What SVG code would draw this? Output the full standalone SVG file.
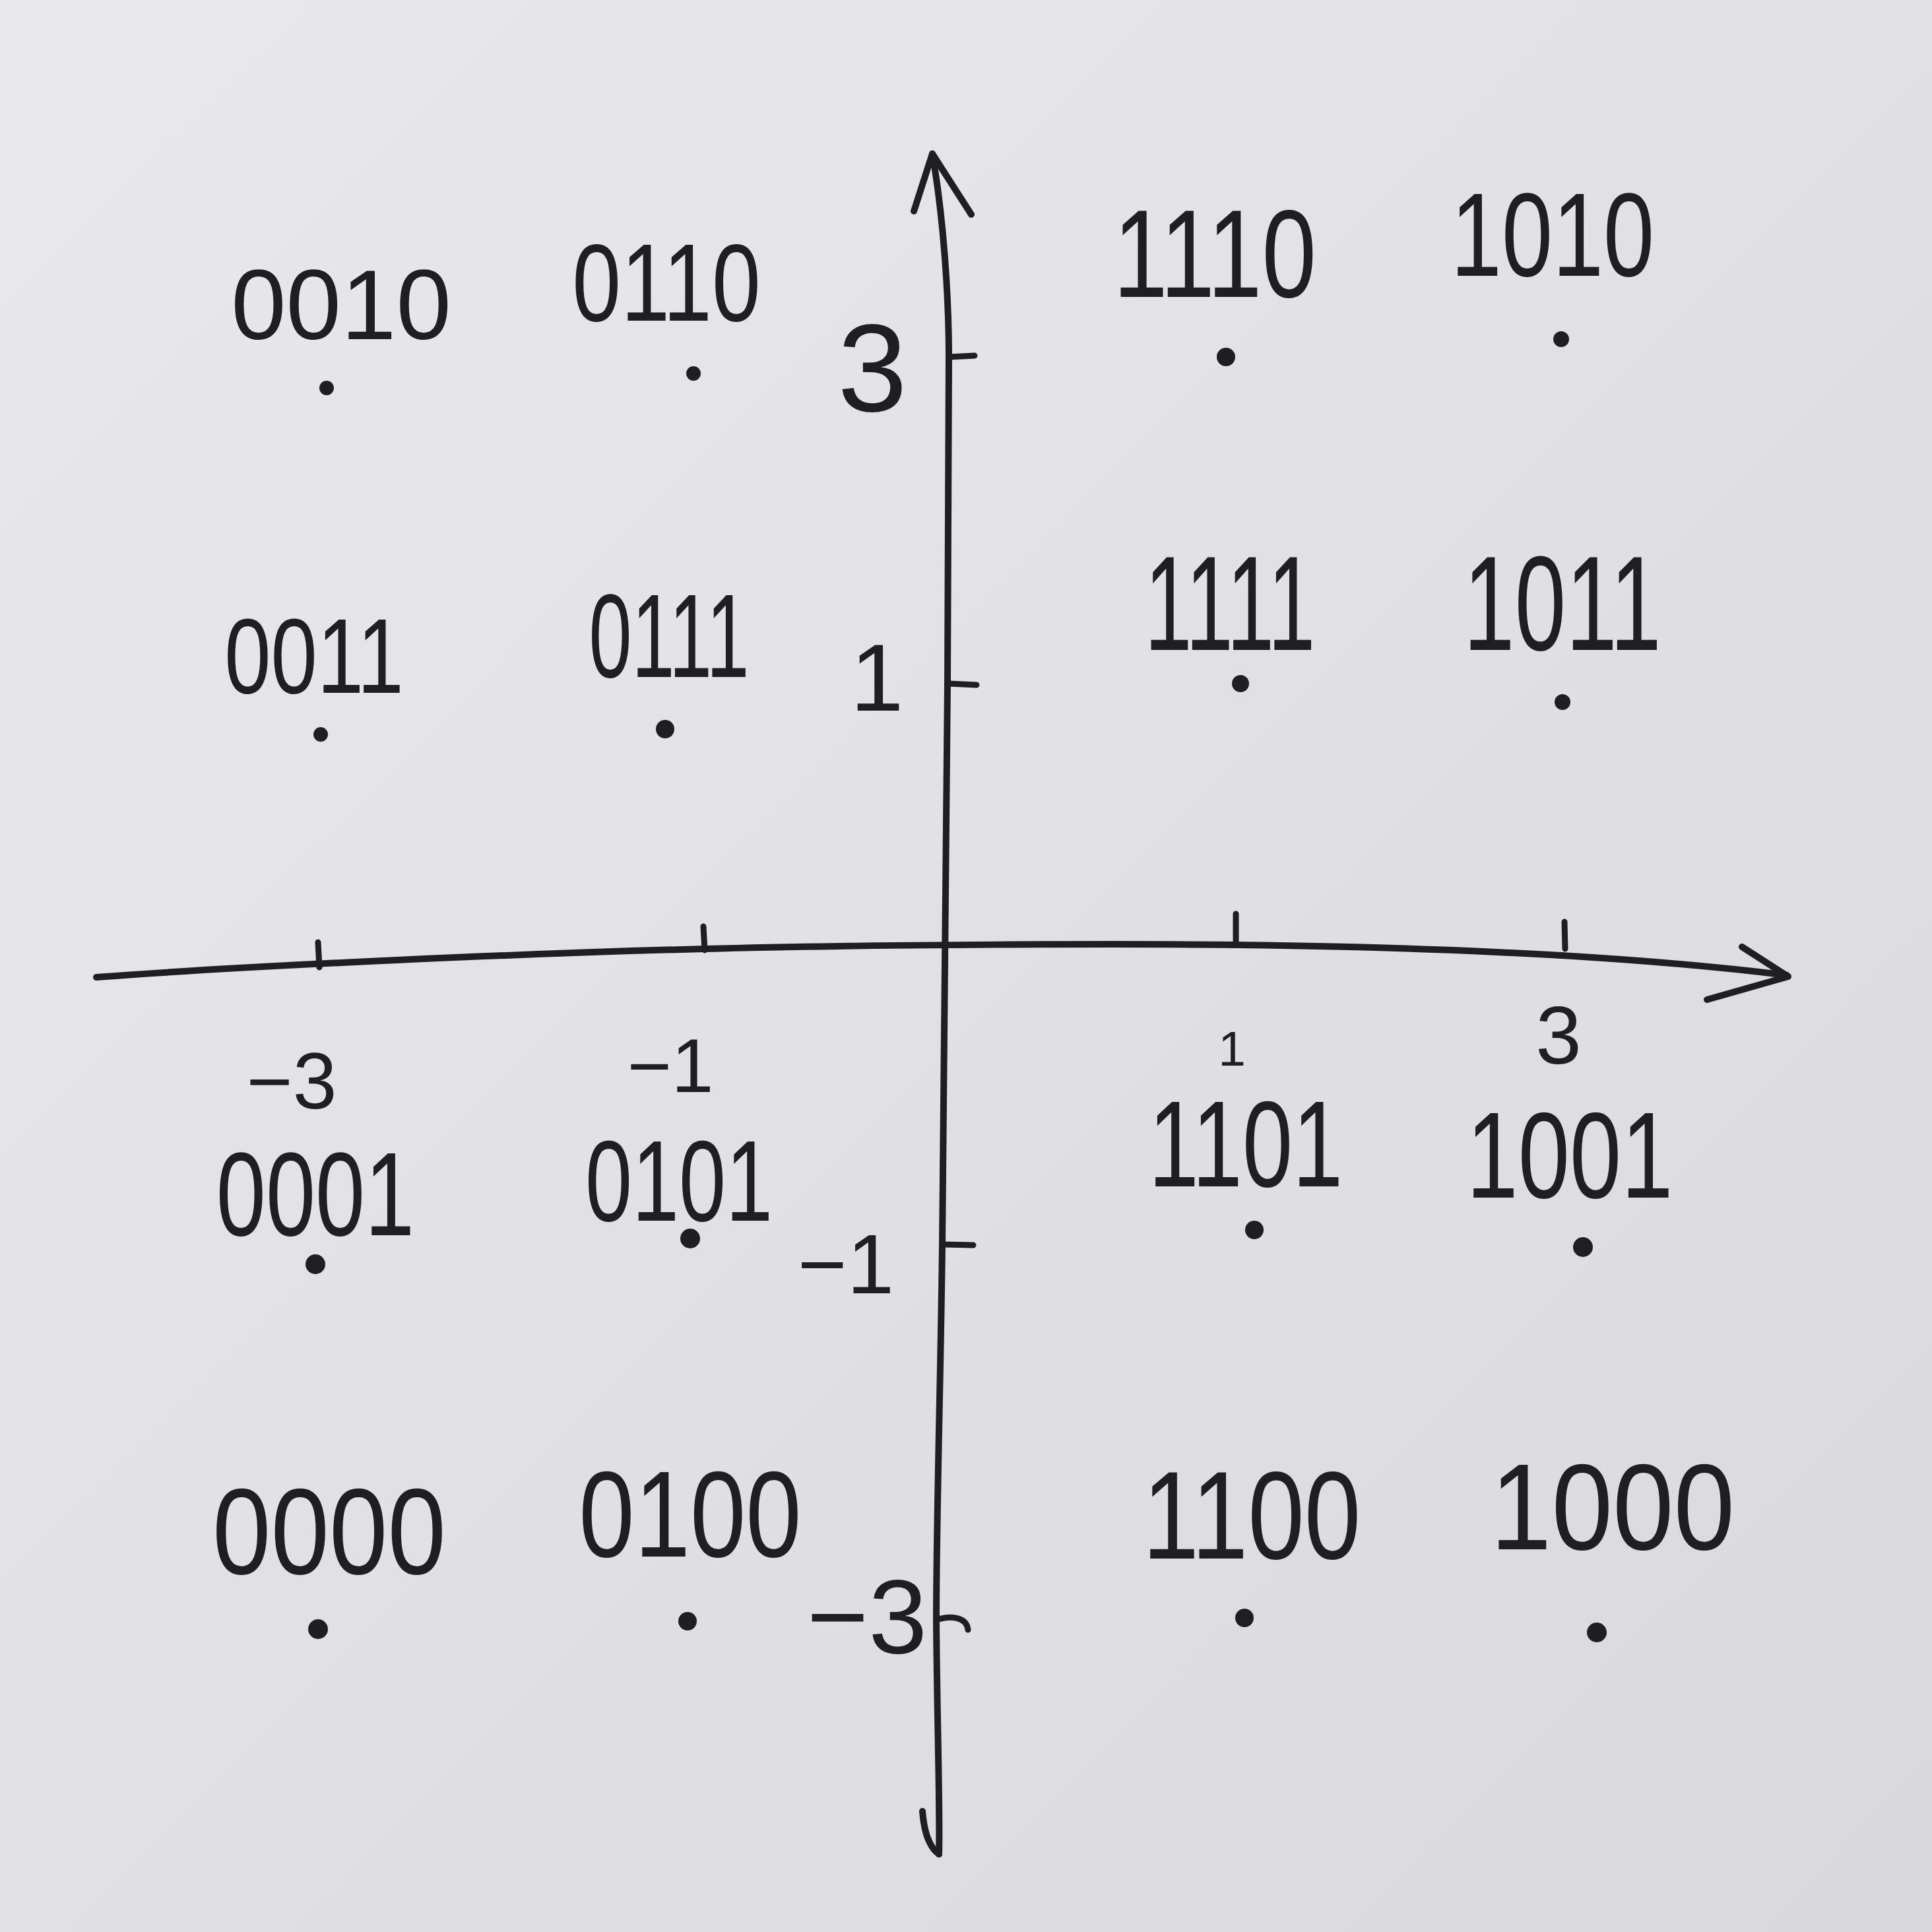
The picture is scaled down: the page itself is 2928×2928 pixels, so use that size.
<svg xmlns="http://www.w3.org/2000/svg" width="2928" height="2928" viewBox="0 0 2928 2928">
<defs>
<linearGradient id="paper" x1="0" y1="0" x2="1" y2="1">
<stop offset="0" stop-color="#e9e9eb"/>
<stop offset="1" stop-color="#d9d9db"/>
</linearGradient>
<style>
.ax{fill:none;stroke:#1f1f23;stroke-width:10;stroke-linecap:round;stroke-linejoin:round}
.tk{fill:none;stroke:#1f1f23;stroke-width:9;stroke-linecap:round}
.dot{fill:#1f1f23}
.lbl{font-family:'Liberation Sans',Arial,sans-serif;fill:#1f1f23;text-anchor:middle}
.num{font-family:'Liberation Sans',Arial,sans-serif;fill:#1f1f23;text-anchor:middle}
</style>
</defs>
<rect width="2928" height="2928" fill="url(#paper)"/>
<g id="axes">
<path class="ax" d="M146,1481 C400,1462 800,1445 1068,1438 S1700,1430 1873,1432 S2400,1440 2708,1478"/>
<path class="ax" d="M2640,1435 L2710,1480 L2587,1515"/>
<path class="ax" d="M1413,233 C1430,330 1438,450 1438,541 L1436,1036 C1434,1400 1430,1700 1428,1886 S1419,2300 1419,2455 C1420,2600 1425,2750 1423,2810"/>
<path class="ax" d="M1398,2745 Q1402,2795 1423,2810"/>
<path class="ax" d="M1385,320 L1413,233 L1472,325"/>
<path class="tk" d="M482,1428 L484,1466 M1066,1404 L1068,1440 M1873,1385 L1873,1432 M2371,1397 L2372,1438"/>
<path class="tk" d="M1438,541 L1477,539 M1438,1036 L1480,1038 M1430,1886 L1475,1887 M1419,2455 C1440,2448 1465,2450 1467,2470"/>
</g>
<g id="tick-labels">
<text class="num" x="1322" y="623" font-size="190">3</text>
<text class="num" x="1329" y="1077" font-size="145">1</text>
<text class="num" x="1282" y="1960" font-size="128">−1</text>
<text class="num" x="1314" y="2505" font-size="160">−3</text>
<text class="num" x="442" y="1680" font-size="120">−3</text>
<text class="num" x="1016" y="1655" font-size="115">−1</text>
<text class="num" x="1867" y="1615" font-size="75">1</text>
<text class="num" x="2362" y="1612" font-size="125">3</text>
</g>
<g id="n0010"><text class="lbl" transform="translate(517,514) scale(1,1)" font-size="150">0010</text><circle class="dot" cx="495" cy="588" r="11"/></g>
<g id="n0110"><text class="lbl" transform="translate(1010,486) scale(0.79,1)" font-size="168">0110</text><circle class="dot" cx="1051" cy="566" r="11"/></g>
<g id="n1110"><text class="lbl" transform="translate(1841,450) scale(0.78,1)" font-size="190">1110</text><circle class="dot" cx="1858" cy="541" r="14"/></g>
<g id="n1010"><text class="lbl" transform="translate(2353,418) scale(0.77,1)" font-size="180">1010</text><circle class="dot" cx="2366" cy="514" r="12"/></g>
<g id="n0011"><text class="lbl" transform="translate(476,1050) scale(0.78,1)" font-size="162">0011</text><circle class="dot" cx="486" cy="1113" r="11"/></g>
<g id="n0111"><text class="lbl" transform="translate(1014,1026) scale(0.65,1)" font-size="180">0111</text><circle class="dot" cx="1008" cy="1105" r="14"/></g>
<g id="n1111"><text class="lbl" transform="translate(1864,985) scale(0.63,1)" font-size="205">1111</text><circle class="dot" cx="1880" cy="1036" r="13"/></g>
<g id="n1011"><text class="lbl" transform="translate(2368,985) scale(0.68,1)" font-size="205">1011</text><circle class="dot" cx="2368" cy="1064" r="12"/></g>
<g id="n0001"><text class="lbl" transform="translate(478,1872) scale(0.75,1)" font-size="180">0001</text><circle class="dot" cx="478" cy="1916" r="15"/></g>
<g id="n0101"><text class="lbl" transform="translate(1029,1850) scale(0.73,1)" font-size="175">0101</text><circle class="dot" cx="1046" cy="1877" r="15"/></g>
<g id="n1101"><text class="lbl" transform="translate(1888,1798) scale(0.74,1)" font-size="185">1101</text><circle class="dot" cx="1901" cy="1864" r="14"/></g>
<g id="n1001"><text class="lbl" transform="translate(2379,1815) scale(0.76,1)" font-size="185">1001</text><circle class="dot" cx="2399" cy="1890" r="15"/></g>
<g id="n0000"><text class="lbl" transform="translate(499,2385) scale(0.86,1)" font-size="185">0000</text><circle class="dot" cx="482" cy="2469" r="15"/></g>
<g id="n0100"><text class="lbl" transform="translate(1046,2359) scale(0.82,1)" font-size="185">0100</text><circle class="dot" cx="1042" cy="2457" r="14"/></g>
<g id="n1100"><text class="lbl" transform="translate(1897,2362) scale(0.81,1)" font-size="190">1100</text><circle class="dot" cx="1886" cy="2452" r="14"/></g>
<g id="n1000"><text class="lbl" transform="translate(2444,2348) scale(0.90,1)" font-size="185">1000</text><circle class="dot" cx="2420" cy="2474" r="15"/></g>
</svg>
